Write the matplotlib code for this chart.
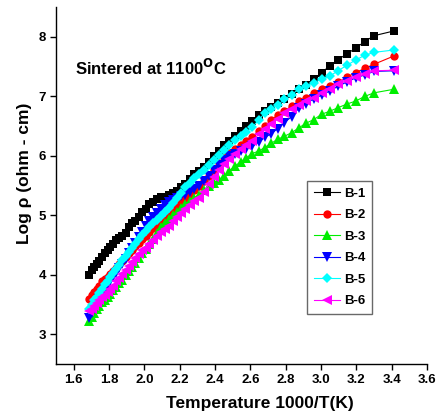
import matplotlib
matplotlib.use("Agg")
import matplotlib.pyplot as plt

plt.rcParams["font.family"] = ["Liberation Sans", "DejaVu Sans"]
plt.rcParams["font.weight"] = "bold"

# 1000/T values (same grid for every sample)
inv_t = [1.686, 1.701, 1.715, 1.730, 1.745, 1.761, 1.776, 1.792, 1.808, 1.825,
         1.842, 1.859, 1.876, 1.894, 1.912, 1.931, 1.949, 1.969, 1.988, 2.008,
         2.028, 2.049, 2.070, 2.092, 2.114, 2.137, 2.160, 2.183, 2.208, 2.232,
         2.257, 2.283, 2.309, 2.336, 2.364, 2.392, 2.421, 2.451, 2.481, 2.513,
         2.545, 2.577, 2.611, 2.646, 2.681, 2.717, 2.755, 2.793, 2.833, 2.874,
         2.915, 2.959, 3.003, 3.049, 3.096, 3.145, 3.195, 3.247, 3.300, 3.413]

b1 = [4.00, 4.08, 4.13, 4.18, 4.24, 4.30, 4.37, 4.41, 4.47, 4.52,
      4.58, 4.62, 4.66, 4.70, 4.80, 4.87, 4.91, 4.98, 5.05, 5.11,
      5.19, 5.22, 5.27, 5.31, 5.30, 5.34, 5.37, 5.41, 5.47, 5.52,
      5.61, 5.69, 5.75, 5.82, 5.89, 5.99, 6.08, 6.18, 6.25, 6.34,
      6.42, 6.50, 6.59, 6.68, 6.76, 6.83, 6.89, 6.96, 7.04, 7.12,
      7.19, 7.29, 7.40, 7.51, 7.62, 7.71, 7.81, 7.92, 8.02, 8.10]

b2 = [3.60, 3.66, 3.71, 3.76, 3.82, 3.89, 3.93, 3.97, 4.02, 4.07,
      4.12, 4.18, 4.24, 4.30, 4.36, 4.42, 4.48, 4.54, 4.60, 4.66,
      4.72, 4.78, 4.84, 4.90, 4.96, 5.02, 5.08, 5.15, 5.21, 5.28,
      5.35, 5.42, 5.49, 5.57, 5.66, 5.77, 5.88, 5.98, 6.05, 6.12,
      6.19, 6.25, 6.32, 6.41, 6.50, 6.60, 6.69, 6.75, 6.84, 6.92,
      6.98, 7.06, 7.12, 7.18, 7.24, 7.32, 7.40, 7.47, 7.54, 7.68]

b3 = [3.22, 3.30, 3.36, 3.42, 3.48, 3.54, 3.58, 3.63, 3.68, 3.74,
      3.80, 3.86, 3.92, 3.99, 4.06, 4.13, 4.20, 4.28, 4.36, 4.44,
      4.52, 4.61, 4.70, 4.80, 4.87, 4.94, 5.00, 5.06, 5.12, 5.19,
      5.25, 5.30, 5.35, 5.42, 5.49, 5.55, 5.60, 5.66, 5.75, 5.83,
      5.90, 5.97, 6.04, 6.08, 6.14, 6.21, 6.28, 6.33, 6.39, 6.47,
      6.55, 6.61, 6.70, 6.75, 6.81, 6.87, 6.92, 7.00, 7.06, 7.12]

b4 = [3.27, 3.36, 3.44, 3.52, 3.60, 3.68, 3.76, 3.83, 3.90, 3.97,
      4.04, 4.11, 4.19, 4.27, 4.36, 4.45, 4.54, 4.63, 4.72, 4.82,
      4.90, 4.97, 5.04, 5.11, 5.17, 5.22, 5.26, 5.29, 5.32, 5.35,
      5.39, 5.44, 5.49, 5.57, 5.66, 5.76, 5.85, 5.93, 5.99, 6.04,
      6.08, 6.11, 6.16, 6.23, 6.31, 6.37, 6.46, 6.56, 6.66, 6.80,
      6.88, 6.96, 7.02, 7.09, 7.17, 7.24, 7.31, 7.36, 7.42, 7.43]

b5 = [3.43, 3.50, 3.57, 3.63, 3.70, 3.77, 3.84, 3.90, 3.97, 4.04,
      4.10, 4.17, 4.25, 4.32, 4.39, 4.46, 4.52, 4.60, 4.67, 4.73,
      4.80, 4.87, 4.93, 4.99, 5.06, 5.13, 5.21, 5.29, 5.38, 5.47,
      5.55, 5.63, 5.70, 5.77, 5.85, 5.93, 6.01, 6.10, 6.19, 6.27,
      6.34, 6.40, 6.48, 6.60, 6.72, 6.79, 6.86, 6.95, 7.03, 7.12,
      7.18, 7.23, 7.29, 7.34, 7.43, 7.52, 7.61, 7.69, 7.74, 7.78]

b6 = [3.39, 3.43, 3.48, 3.53, 3.58, 3.63, 3.67, 3.71, 3.76, 3.82,
      3.89, 3.95, 4.01, 4.08, 4.15, 4.22, 4.28, 4.35, 4.41, 4.46,
      4.52, 4.59, 4.66, 4.72, 4.77, 4.83, 4.90, 4.97, 5.04, 5.11,
      5.17, 5.24, 5.30, 5.40, 5.52, 5.64, 5.76, 5.87, 5.95, 6.04,
      6.11, 6.18, 6.25, 6.36, 6.46, 6.54, 6.62, 6.72, 6.78, 6.86,
      6.92, 6.98, 7.06, 7.12, 7.20, 7.26, 7.32, 7.37, 7.43, 7.44]

labels = ["B-1", "B-2", "B-3", "B-4", "B-5", "B-6"]
series = [b1, b2, b3, b4, b5, b6]
colors = ["#000000", "#FF0000", "#00EE00", "#0000FF", "#00FFFF", "#FF00FF"]
markers = ["s", "o", "^", "v", "D", "<"]
msizes = [5.5, 6, 6.5, 6.5, 5.5, 6.5]

xticks = [1.6, 1.8, 2.0, 2.2, 2.4, 2.6, 2.8, 3.0, 3.2, 3.4, 3.6]
yticks = [3, 4, 5, 6, 7, 8]

fig = plt.figure(figsize=(4.38, 4.20), dpi=100)
ax = fig.add_axes([0.128, 0.133, 0.847, 0.850])

for ys, lab, c, m, ms in zip(series, labels, colors, markers, msizes):
    ax.plot(inv_t, ys, color=c, linewidth=0.8, marker=m, markersize=ms,
            markeredgewidth=0, label=lab)

ax.set_xlim(1.5, 3.6)
ax.set_ylim(2.5, 8.5)
ax.set_xticks(xticks)
ax.set_xticklabels([f"{v:.1f}" for v in xticks])
ax.set_yticks(yticks)
ax.tick_params(direction="out", length=4, width=1, labelsize=9.5, pad=3)
for lbl in ax.get_xticklabels() + ax.get_yticklabels():
    lbl.set_fontweight("bold")

ax.spines["top"].set_visible(False)
ax.spines["right"].set_visible(False)
ax.spines["left"].set_linewidth(1.0)
ax.spines["bottom"].set_linewidth(1.0)

ax.set_xlabel("Temperature 1000/T(K)", fontsize=12.5, fontweight="bold")
ax.set_ylabel("Log \u03c1 (ohm - cm)", fontsize=12.5, fontweight="bold")
ax.xaxis.set_label_coords(0.549, -0.09)
ax.yaxis.set_label_coords(-0.065, 0.535)

ax.text(0.05, 0.81, r"Sintered at 1100$^{\mathbf{O}}$C", transform=ax.transAxes,
        fontsize=12, fontweight="bold")

leg = ax.legend(loc="upper left", bbox_to_anchor=(0.677, 0.513), fontsize=9.5,
                frameon=True, fancybox=False, edgecolor="#444444",
                handlelength=1.95, handletextpad=0.35, labelspacing=0.7,
                borderpad=0.5, borderaxespad=0)
leg.get_frame().set_linewidth(1.0)
for t in leg.get_texts():
    t.set_fontweight("bold")

fig.savefig("out.png", dpi=100)
